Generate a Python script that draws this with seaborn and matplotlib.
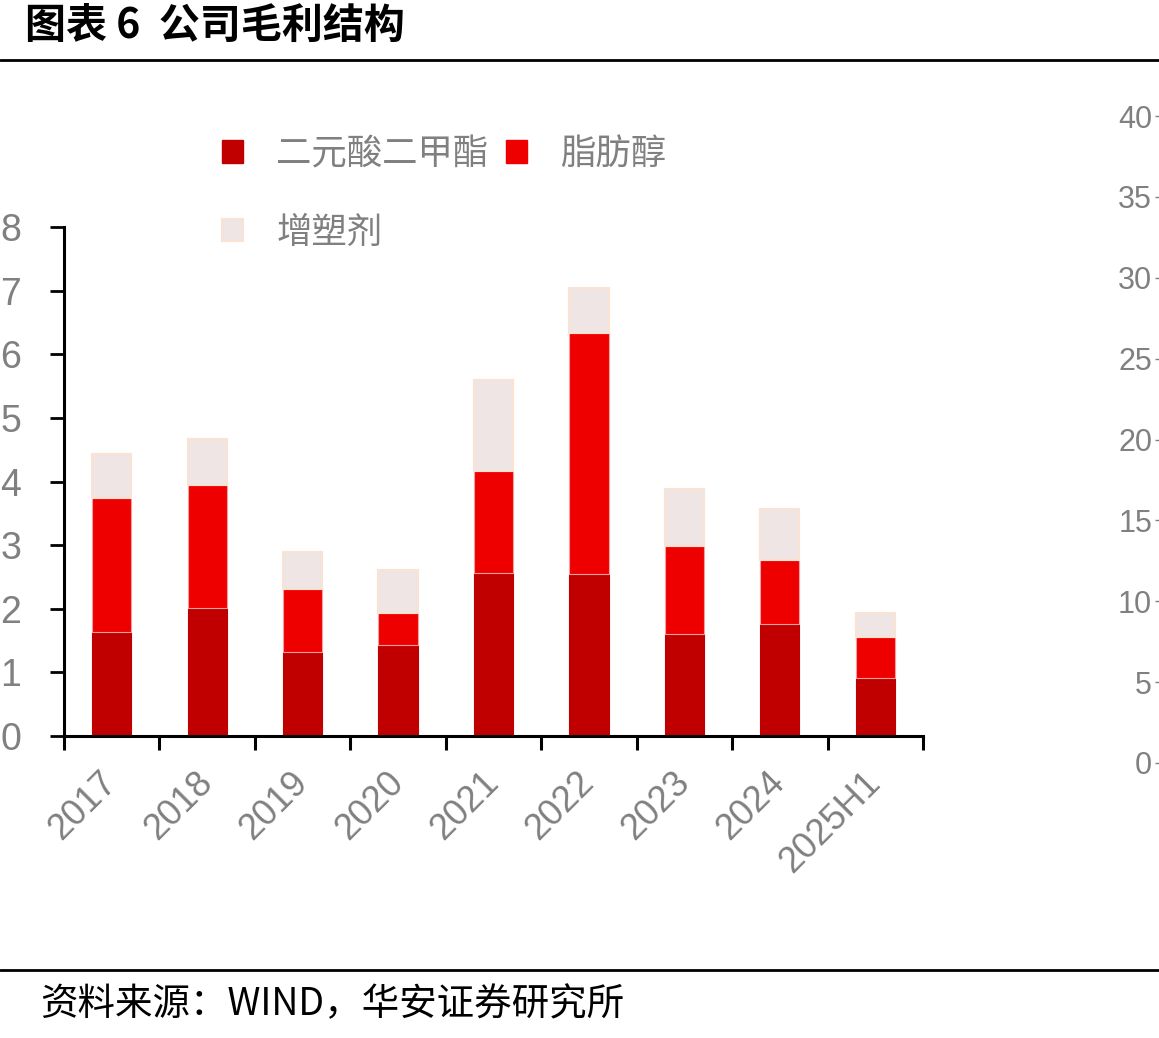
import numpy as np
import pandas as pd
import matplotlib
matplotlib.use('Agg')
import matplotlib.pyplot as plt
import matplotlib.patches as mpatches
import seaborn as sns

# data (cumulative tops converted to segments)
years = ['2017', '2018', '2019', '2020', '2021', '2022', '2023', '2024', '2025H1']
dmde = [1.64, 2.01, 1.32, 1.43, 2.56, 2.55, 1.60, 1.76, 0.91]
fatty_alcohol = [2.10, 1.94, 0.99, 0.50, 1.61, 3.79, 1.39, 1.01, 0.65]
plasticizer = [0.69, 0.72, 0.58, 0.68, 1.43, 0.70, 0.89, 0.80, 0.37]
series_names = ['二元酸二甲酯', '脂肪醇', '增塑剂']
left_ticks = [0, 1, 2, 3, 4, 5, 6, 7, 8]
right_ticks = [0, 5, 10, 15, 20, 25, 30, 35, 40]

c_dark = '#C00000'
c_red = '#EE0000'
c_light = '#EFE5E5'
c_edge = '#FBE3D4'
gray = '#808080'

sns.set_style('white')
plt.rcParams['font.family'] = ['Liberation Sans', 'Noto Sans CJK SC', 'DejaVu Sans']
cjk = ['Noto Sans CJK SC', 'DejaVu Sans']

df = pd.DataFrame({'year': years, 'a': dmde, 'b': fatty_alcohol, 'c': plasticizer})
bottom_b = np.array(dmde)
bottom_c = bottom_b + np.array(fatty_alcohol)

fig = plt.figure(figsize=(11.59, 10.38), dpi=100)
ax = fig.add_axes([64 / 1159, 1 - 736 / 1038, (923 - 64) / 1159, (736 - 227) / 1038])

w = 0.41
sns.barplot(data=df, x='year', y='a', color=c_dark, width=w, ax=ax,
            saturation=1, edgecolor=c_dark, linewidth=0.8)
sns.barplot(data=df, x='year', y='b', color=c_red, width=w, ax=ax,
            saturation=1, bottom=bottom_b, edgecolor='#F4A0A0', linewidth=0.8)
sns.barplot(data=df, x='year', y='c', color=c_light, width=w, ax=ax,
            saturation=1, bottom=bottom_c, edgecolor=c_edge, linewidth=1.5)

ax.set_ylim(0, 8)
ax.set_xlim(-0.5, len(years) - 0.5)
ax.set_yticks(left_ticks)
ax.set_xlabel('')
ax.set_ylabel('')
for s in ['top', 'right']:
    ax.spines[s].set_visible(False)
for s in ['left', 'bottom']:
    ax.spines[s].set_linewidth(2.2)
    ax.spines[s].set_color('black')

ax.tick_params(axis='y', direction='out', length=10, width=2, color='black',
               labelsize=27, labelcolor=gray, pad=21, left=True)
ax.set_xticks(np.arange(len(years)))
ax.set_xticklabels(years, rotation=45, ha='right', va='center', rotation_mode='anchor')
ax.set_xticks(np.arange(-0.5, len(years)), minor=True)
ax.tick_params(axis='x', which='major', length=0, labelsize=26, labelcolor=gray, pad=30)
ax.tick_params(axis='x', which='minor', direction='out', length=10, width=2.2,
               color='black', bottom=True)

# legend (column-major fill, so order gives rows: dark, red / light)
handles = [mpatches.Patch(facecolor=c_dark, edgecolor=c_dark),
           mpatches.Patch(facecolor=c_light, edgecolor=c_edge, linewidth=1.5),
           mpatches.Patch(facecolor=c_red, edgecolor=c_red)]
labels = [series_names[0], series_names[2], series_names[1]]
fig.legend(handles, labels, loc='upper left',
           bbox_to_anchor=(222 / 1159, 1 - 136 / 1038), ncol=2, frameon=False,
           prop={'family': cjk, 'size': 25.5}, labelcolor=gray,
           handlelength=0.58, handleheight=0.58, handletextpad=0.95,
           columnspacing=0.5, labelspacing=1.2, borderpad=0, borderaxespad=0)

# right-side axis (cut off at the image edge)
ax2 = fig.add_axes([1.0, 1 - 763 / 1038, 0.02, (763 - 116) / 1038])
ax2.set_ylim(0, 40)
ax2.set_yticks(right_ticks)
ax2.set_xticks([])
for s in ax2.spines.values():
    s.set_visible(False)
ax2.patch.set_visible(False)
ax2.tick_params(axis='y', direction='out', length=3, width=1, color=gray,
                labelsize=22, labelcolor=gray, pad=2, left=True)

# header and footer
fig.text(25 / 1159, 1 - 26 / 1038, '图表 6  公司毛利结构', fontsize=29.5, fontweight='bold',
         family=cjk, va='center', ha='left', color='black')
fig.add_artist(plt.Line2D([0, 1], [1 - 60 / 1038, 1 - 60 / 1038], color='black', lw=2))
fig.add_artist(plt.Line2D([0, 1], [1 - 970 / 1038, 1 - 970 / 1038], color='black', lw=2))
fig.text(40 / 1159, 1 - 1005 / 1038, '资料来源：WIND，华安证券研究所', fontsize=27,
         family=cjk, va='center', ha='left', color='black')

fig.savefig('out.png', dpi=100)
